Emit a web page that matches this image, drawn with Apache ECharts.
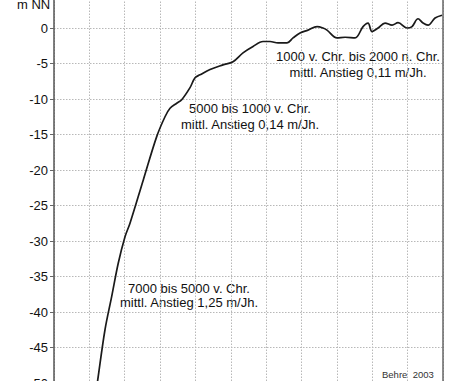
<!DOCTYPE html>
<html>
<head>
<meta charset="utf-8">
<script src="https://cdn.jsdelivr.net/npm/echarts@6/dist/echarts.min.js"></script>
<style>
html,body{margin:0;padding:0;background:#fff;overflow:hidden;width:468px;height:381px;}
#c{position:absolute;left:0;top:-20px;width:468px;height:451px;}
</style>
</head>
<body>
<div id="c"></div>
<script>
// Years (negative = v. Chr.), sea level in m NN
var years = [-7812,-7764,-7558,-7368,-7182,-6992,-6851,-6475,-6096,-5861,-5719,-5530,-5389,-5154,-5012,-4871,-4588,-4221,-3938,-3655,-3372,-3089,-2891,-2665,-2410,-2241,-2043,-1817,-1562,-1393,-1280,-997,-770,-487,-261,-120,-7,163,361,559,729,983,1124,1294,1436,1577,1775,1973];
var levels = [-51.3,-49.6,-42.5,-37.8,-33.1,-29.4,-27.5,-21.4,-15.3,-12.5,-11.3,-10.6,-10.1,-8.4,-7.0,-6.6,-5.85,-5.2,-4.75,-3.5,-2.6,-1.9,-1.9,-2.1,-2.1,-1.4,-0.7,-0.3,0.2,0.0,-0.3,-1.4,-1.3,-1.4,0.2,0.7,-0.5,0.0,0.7,0.4,0.75,0.0,0.2,1.3,0.7,0.4,1.4,1.8];
var yUnit = 'm NN';
var notes = [
  ['1000 v. Chr. bis 2000 n. Chr.', 'mittl. Anstieg 0,11 m/Jh.'],
  ['5000 bis 1000 v. Chr.', 'mittl. Anstieg 0,14 m/Jh.'],
  ['7000 bis 5000 v. Chr.', 'mittl. Anstieg 1,25 m/Jh.']
];
var credit = 'Behre  2003';

var FONT = '"Liberation Sans", Arial, sans-serif';
var OFF = 20; // container shifted up by this many pixels
var chart = echarts.init(document.getElementById('c'), null, {renderer: 'svg'});
var data = years.map(function(y, i){ return [y, levels[i]]; });

function note(lines, cx, cy, lh){
  return {type:'text', x: cx, y: cy + OFF, style:{text: lines.join('\n'), font:'13px ' + FONT, fill:'#111', textAlign:'center', textVerticalAlign:'middle', lineHeight: lh}};
}

chart.setOption({
  animation: false,
  backgroundColor: '#fff',
  grid: {left: 54, right: 25, top: 12.5, bottom: 12.5},
  xAxis: {
    type: 'value', min: -9000, max: 2000, interval: 1000,
    axisLine: {show: false}, axisTick: {show: false}, axisLabel: {show: false},
    splitLine: {show: true, lineStyle: {color: '#b8b8b8', type: [1.5, 1.5], width: 1}}
  },
  yAxis: [{
    type: 'value', min: -55, max: 5, interval: 5,
    axisLine: {show: true, onZero: false, lineStyle: {color: '#555', width: 1.5}},
    axisTick: {show: true, length: 4, lineStyle: {color: '#666'}},
    axisLabel: {color: '#111', fontSize: 13, fontFamily: FONT, margin: 6, showMaxLabel: false, showMinLabel: false},
    splitLine: {show: true, lineStyle: {color: '#b8b8b8', type: [1.5, 1.5], width: 1}}
  }, {
    type: 'value', min: -55, max: 5, interval: 5, position: 'right',
    axisLine: {show: true, onZero: false, lineStyle: {color: '#666', width: 1.5}},
    axisTick: {show: false}, axisLabel: {show: false}, splitLine: {show: false}
  }],
  series: [{
    type: 'line', data: data, smooth: 0.35, symbol: 'none',
    lineStyle: {color: '#1a1a1a', width: 1.7}
  }],
  graphic: [
    {type:'text', x: 17, y: 4 + OFF, style:{text: yUnit, font:'13px ' + FONT, fill:'#111', textVerticalAlign:'middle'}},
    note(notes[0], 358, 64, 16),
    note(notes[1], 250, 116, 16),
    note(notes[2], 189, 295, 14),
    {type:'text', x: 382, y: 374 + OFF, style:{text: credit, font:'9.5px ' + FONT, fill:'#333', textVerticalAlign:'middle'}}
  ]
});
</script>
</body>
</html>
